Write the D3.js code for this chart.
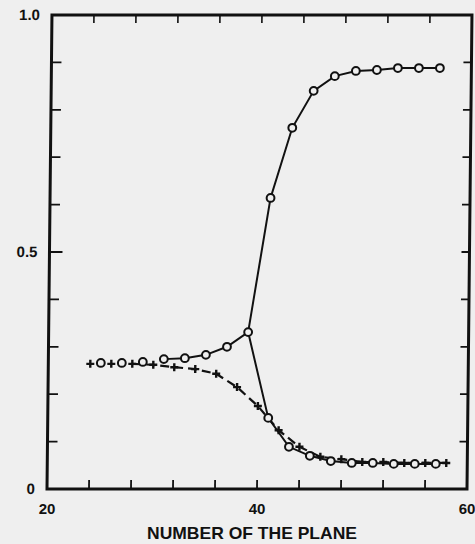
<!DOCTYPE html>
<html>
<head>
<meta charset="utf-8">
<script src="https://cdn.jsdelivr.net/npm/d3@7"></script>
<style>
  body { margin: 0; background: #efefef; }
  svg { display: block; }
  text { font-family: "Liberation Sans", Arial, sans-serif; fill: #111; }
</style>
</head>
<body>
<div id="chart"></div>
<script>
// Data
var circleX = [25, 27, 29, 31, 33, 35, 37, 39];
var circleY = [0.266, 0.266, 0.268, 0.274, 0.276, 0.283, 0.300, 0.331];

var upperX = [41, 43, 45, 47, 49, 51, 53, 55, 57];
var upperY = [0.614, 0.762, 0.840, 0.871, 0.882, 0.884, 0.888, 0.888, 0.888];

var lowerX = [41, 43, 45, 47, 49, 51, 53, 55, 57];
var lowerY = [0.150, 0.089, 0.070, 0.059, 0.055, 0.055, 0.053, 0.053, 0.053];

var plusX = [24, 26, 28, 30, 32, 34, 36, 38, 40, 42, 44, 46, 48, 50, 52, 54, 56, 58];
var plusY = [0.264, 0.264, 0.264, 0.262, 0.257, 0.253, 0.243, 0.215, 0.175, 0.124,
             0.089, 0.068, 0.063, 0.057, 0.057, 0.055, 0.055, 0.055];

var xTicks = [24, 28, 32, 36, 40, 44, 48, 52, 56];
var xLabels = [20, 40, 60];
var yTicks = [0.1, 0.2, 0.3, 0.4, 0.5, 0.6, 0.7, 0.8, 0.9];
var yLabels = [{ v: 0, t: "0" }, { v: 0.5, t: "0.5" }, { v: 1.0, t: "1.0" }];

// Chart params
var svgWidth = 475;
var svgHeight = 544;
var margin = { top: 15, right: 8, bottom: 55, left: 47 };
var width = svgWidth - margin.left - margin.right;
var height = svgHeight - margin.top - margin.bottom;

var svg = d3.select("#chart")
  .append("svg")
  .attr("width", svgWidth)
  .attr("height", svgHeight);

svg.append("rect")
  .attr("width", svgWidth)
  .attr("height", svgHeight)
  .attr("fill", "#efefef");

// the scanned figure is slightly sheared, top leans right
var chartGroup = svg.append("g")
  .attr("transform", `translate(${margin.left}, ${margin.top + height}) skewX(-0.6) translate(0, ${-height})`);

var xScale = d3.scaleLinear().domain([20, 60]).range([0, 420]);
var yScale = d3.scaleLinear().domain([0, 1]).range([height, 0]);

// frame
chartGroup.append("rect")
  .attr("x", xScale(20))
  .attr("y", yScale(1))
  .attr("width", xScale(60) - xScale(20))
  .attr("height", yScale(0) - yScale(1))
  .attr("fill", "none")
  .attr("stroke", "#111")
  .attr("stroke-width", 3);

// ticks, all pointing inward
var tickColor = "#111";
chartGroup.selectAll(".xtb")
  .data(xTicks).enter().append("line")
  .attr("x1", d => xScale(d)).attr("x2", d => xScale(d))
  .attr("y1", yScale(0)).attr("y2", yScale(0) - 9)
  .attr("stroke", tickColor).attr("stroke-width", 1.8);

chartGroup.selectAll(".xtt")
  .data(xTicks).enter().append("line")
  .attr("x1", d => xScale(d)).attr("x2", d => xScale(d))
  .attr("y1", yScale(1)).attr("y2", yScale(1) + 8)
  .attr("stroke", tickColor).attr("stroke-width", 1.6);

chartGroup.selectAll(".ytl")
  .data(yTicks).enter().append("line")
  .attr("x1", xScale(20)).attr("x2", d => xScale(20) + (d === 0.5 ? 13 : 10))
  .attr("y1", d => yScale(d)).attr("y2", d => yScale(d))
  .attr("stroke", tickColor).attr("stroke-width", 1.8);

chartGroup.selectAll(".ytr")
  .data(yTicks).enter().append("line")
  .attr("x1", xScale(60)).attr("x2", xScale(60) - 8)
  .attr("y1", d => yScale(d)).attr("y2", d => yScale(d))
  .attr("stroke", tickColor).attr("stroke-width", 1.8);

// tick labels
chartGroup.selectAll(".ylab")
  .data(yLabels).enter().append("text")
  .attr("x", xScale(20) - 12)
  .attr("y", d => yScale(d.v))
  .attr("dy", "0.36em")
  .attr("text-anchor", "end")
  .attr("font-size", 15)
  .attr("font-weight", "bold")
  .text(d => d.t);

svg.selectAll(".xlab")
  .data(xLabels).enter().append("text")
  .attr("x", d => margin.left + xScale(d))
  .attr("y", 514)
  .attr("text-anchor", "middle")
  .attr("font-size", 15)
  .attr("font-weight", "bold")
  .text(d => d);

svg.append("text")
  .attr("x", 252)
  .attr("y", 539)
  .attr("text-anchor", "middle")
  .attr("font-size", 17)
  .attr("font-weight", "bold")
  .attr("textLength", 210)
  .attr("lengthAdjust", "spacingAndGlyphs")
  .text("NUMBER OF THE PLANE");

// lines
var line = d3.line()
  .x(d => xScale(d[0]))
  .y(d => yScale(d[1]));

var zip = (xs, ys) => xs.map((x, i) => [x, ys[i]]);
var circles = zip(circleX, circleY);
var upper = zip(upperX, upperY);
var lower = zip(lowerX, lowerY);
var pluses = zip(plusX, plusY);

var solidStart = circles.slice(3);

chartGroup.append("path")
  .datum(pluses.slice(2))
  .attr("d", line)
  .attr("fill", "none")
  .attr("stroke", "#111")
  .attr("stroke-width", 2.2)
  .attr("stroke-dasharray", "9,5");

chartGroup.append("path")
  .datum(solidStart.concat(upper))
  .attr("d", line)
  .attr("fill", "none")
  .attr("stroke", "#111")
  .attr("stroke-width", 2);

chartGroup.append("path")
  .datum([circles[circles.length - 1]].concat(lower))
  .attr("d", line)
  .attr("fill", "none")
  .attr("stroke", "#111")
  .attr("stroke-width", 2);

// markers
chartGroup.selectAll(".pl")
  .data(pluses).enter().append("path")
  .attr("d", d => {
    var x = xScale(d[0]), y = yScale(d[1]), s = 4;
    return `M${x - s},${y}H${x + s}M${x},${y - s}V${y + s}`;
  })
  .attr("stroke", "#111")
  .attr("stroke-width", 2.4);

chartGroup.selectAll(".ci")
  .data(circles.concat(upper, lower)).enter().append("circle")
  .attr("cx", d => xScale(d[0]))
  .attr("cy", d => yScale(d[1]))
  .attr("r", 3.9)
  .attr("fill", "#efefef")
  .attr("stroke", "#111")
  .attr("stroke-width", 2);
</script>
</body>
</html>
